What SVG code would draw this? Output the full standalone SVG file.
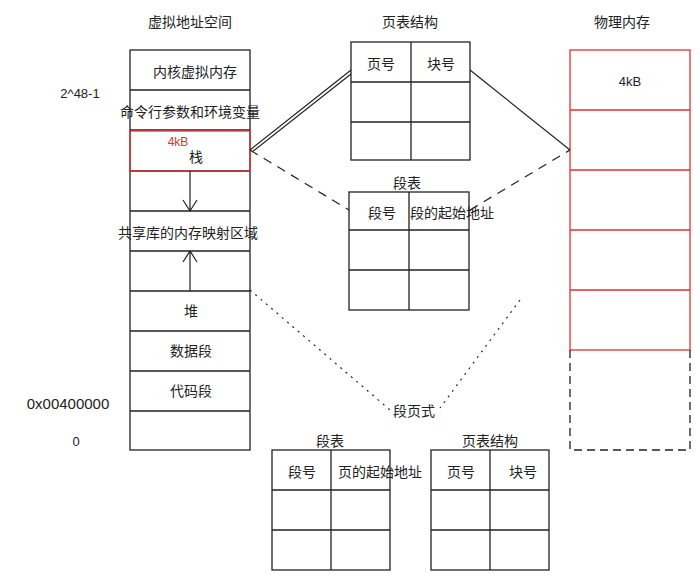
<svg xmlns="http://www.w3.org/2000/svg" width="700" height="582" viewBox="0 0 700 582">
<style>
text{font-family:"Noto Sans CJK SC","Liberation Sans",sans-serif;font-size:14px;fill:#222;text-anchor:middle}
.b{fill:none;stroke:#222;stroke-width:1.3}
.r{fill:none;stroke:#d33;stroke-width:1.3}
.hand{font-family:"Liberation Sans",sans-serif;font-size:13px}
</style>
<rect width="700" height="582" fill="#fff"/>
<g id="vspace">
<text x="190" y="27">虚拟地址空间</text>
<rect class="b" x="130" y="50" width="120" height="400"/>
<path class="b" d="M130 90H250M130 130H250M130 171H250M130 211H250M130 251H250M130 291H250M130 331H250M130 371H250M130 411H250"/>
<rect class="r" x="130" y="131" width="120" height="40"/>
<text x="195" y="77">内核虚拟内存</text>
<text x="190" y="117">命令行参数和环境变量</text>
<text x="196" y="162">栈</text>
<text x="178" y="146" style="fill:#d33;font-size:12px" class="hand">4kB</text>
<text x="188" y="238">共享库的内存映射区域</text>
<text x="191" y="316">堆</text>
<text x="191" y="356">数据段</text>
<text x="191" y="396">代码段</text>
<text x="80" y="98" class="hand">2^48-1</text>
<text x="68" y="409" class="hand" style="font-size:15px">0x00400000</text>
<text x="76" y="446" class="hand">0</text>
</g>
<g id="pagetable">
<text x="410" y="27">页表结构</text>
<rect class="b" x="351" y="42" width="119" height="118"/>
<path class="b" d="M351 82H470M351 122H470M411 42V160"/>
<text x="381" y="69">页号</text><text x="441" y="69">块号</text>
</g>
<g id="segtable">
<text x="407" y="188">段表</text>
<rect class="b" x="349" y="192" width="120" height="118"/>
<path class="b" d="M349 230H469M349 270H469M409 192V310"/>
<text x="382" y="218">段号</text><text x="452" y="218">段的起始地址</text>
</g>
<g id="phys">
<text x="622" y="27">物理内存</text>
<rect class="r" x="570" y="50" width="120" height="300"/>
<path class="r" d="M570 110H690M570 170H690M570 230H690M570 290H690"/>
<path class="b" d="M570 350V450H690V350" stroke-dasharray="8 5"/>
<text x="630" y="86" class="hand">4kB</text>
</g>
<g id="segpage">
<text x="414" y="416">段页式</text>
<text x="330" y="446">段表</text>
<rect class="b" x="272" y="450" width="118" height="120"/>
<path class="b" d="M272 490H390M272 530H390M331 450V570"/>
<text x="302" y="477">段号</text><text x="380" y="477">页的起始地址</text>
<text x="490" y="446">页表结构</text>
<rect class="b" x="431" y="450" width="118" height="120"/>
<path class="b" d="M431 490H549M431 530H549M490 450V570"/>
<text x="461" y="477">页号</text><text x="523" y="477">块号</text>
</g>
<g id="connectors" fill="none" stroke="#222" stroke-width="1.2">
<path d="M250 150L351 70M252 152L351 74"/>
<path d="M470 70L570 150"/>
<path d="M250 150L349 210M470 210L570 150" stroke-dasharray="9 7"/>
<path d="M250 290L390 410M520 300L440 408" stroke-dasharray="2 5"/>
<path d="M190 171V211M183 200L190 211L197 200"/>
<path d="M190 291V251M183 262L190 251L197 262"/>
</g>
</svg>
